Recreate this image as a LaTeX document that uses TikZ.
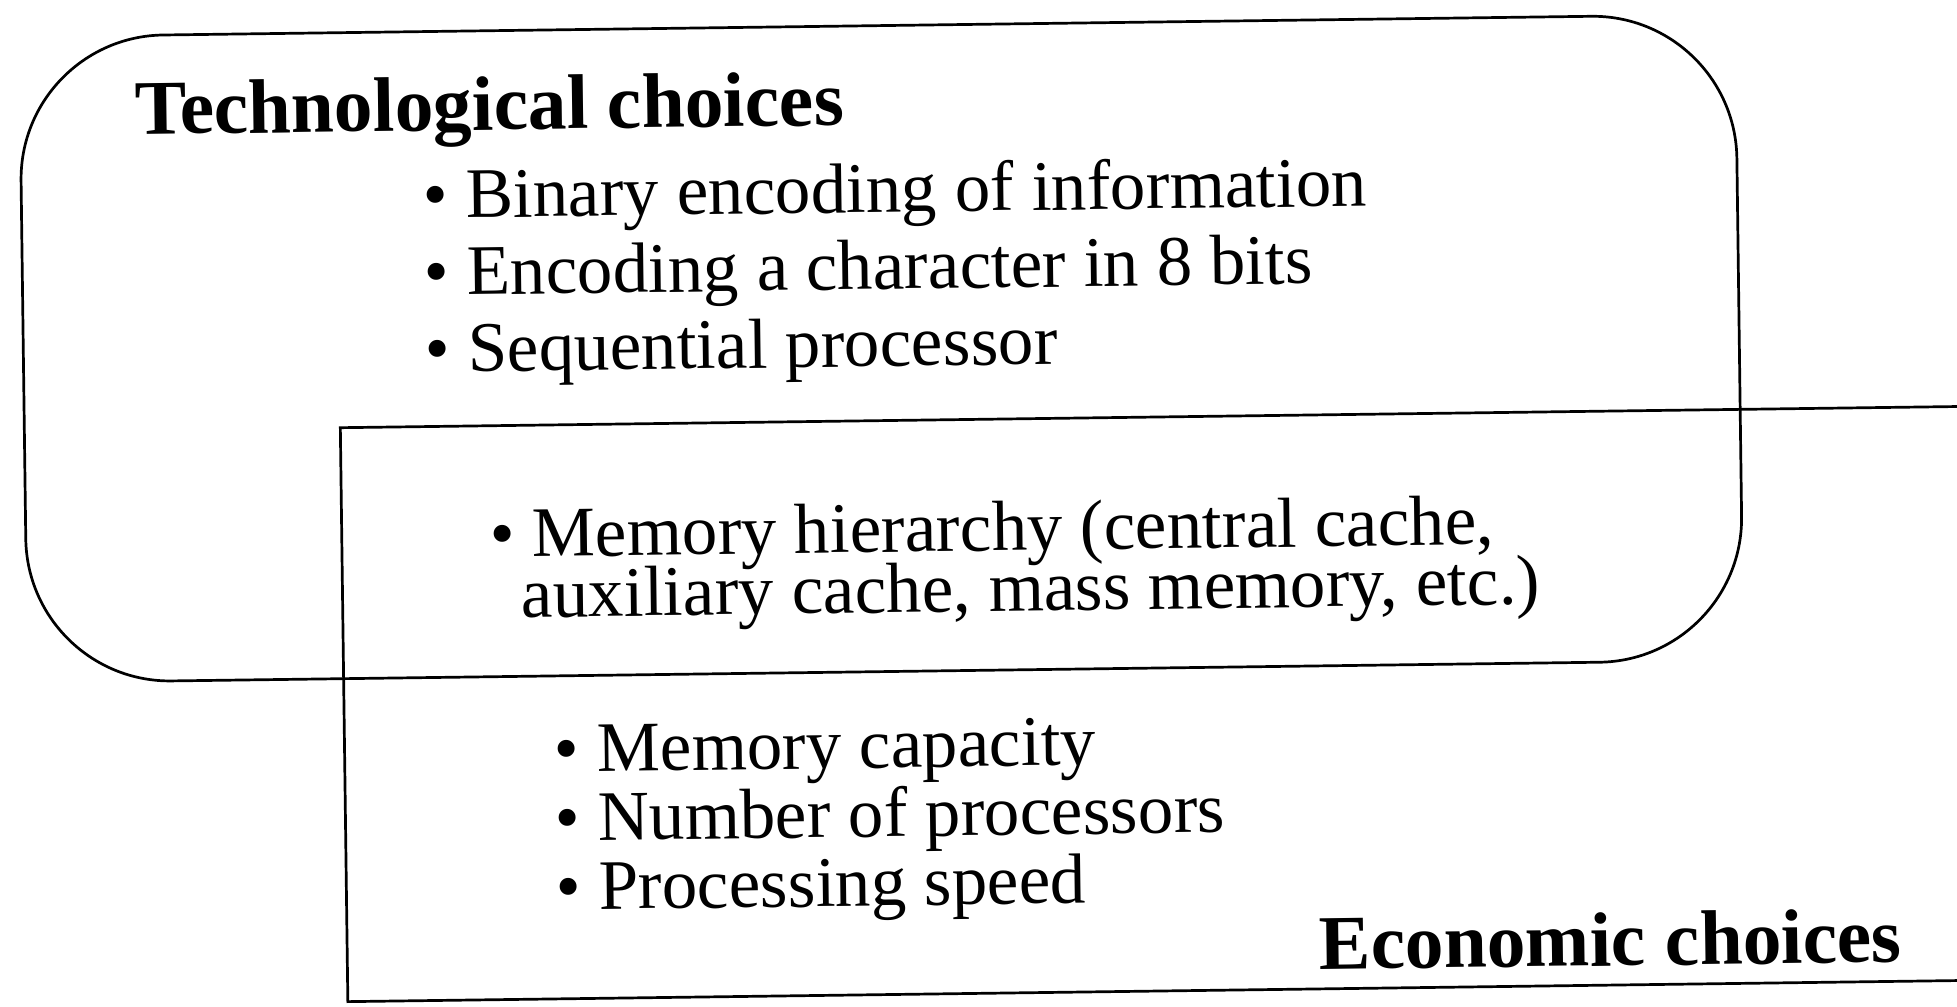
\documentclass[tikz,border=0pt]{standalone}
\usepackage{fontspec}
\setmainfont{Liberation Serif}
\newcommand{\linesat}[2]{\vtop{\baselineskip=#1\lineskiplimit=-1000pt\lineskip=0pt #2}}
\begin{document}
\begin{tikzpicture}[x=0.5pt,y=0.5pt,
  body/.style={anchor=base west, inner sep=0pt, font=\fontsize{35.5}{40}\selectfont},
  head/.style={anchor=base west, inner sep=0pt, font=\bfseries\fontsize{38.7}{44}\selectfont},
  frame/.style={draw=black, line width=1.35pt, inner sep=0pt}]
\useasboundingbox (0,0) rectangle (1957,-1006);
\fill[white] (0,0) rectangle (1957,-1006);
\clip (0,0) rectangle (1957,-1006);
\begin{scope}[rotate around={0.75:(978,-503)}, transform shape]
\node[frame, rounded corners=72pt, minimum width=858pt, minimum height=323pt, anchor=north west] (tech) at (24,-23) {};
\node[frame, minimum width=880pt, minimum height=287pt, anchor=north west] (econ) at (340,-418) {};
\node[head] (th) at (140,-123.5) {Technological choices};
\node[body] (techlist) at (427,-211) {\linesat{38.5pt}{%
  \hbox{\textbullet\ Binary encoding of information}%
  \hbox{\textbullet\ Encoding a character in 8 bits}%
  \hbox{\textbullet\ Sequential processor}}};
\node[body] (bothlist) at (489,-551) {\linesat{30.25pt}{%
  \hbox{\textbullet\ Memory hierarchy (central cache,}%
  \hbox{\hspace*{15.5pt}auxiliary cache, mass memory, etc.)}}};
\node[body] (econlist) at (551,-766.5) {\linesat{34.5pt}{%
  \hbox{\textbullet\ Memory capacity}%
  \hbox{\textbullet\ Number of processors}%
  \hbox{\textbullet\ Processing speed}}};
\node[head] (eh) at (1313,-974) {Economic choices};
\end{scope}
\end{tikzpicture}
\end{document}
